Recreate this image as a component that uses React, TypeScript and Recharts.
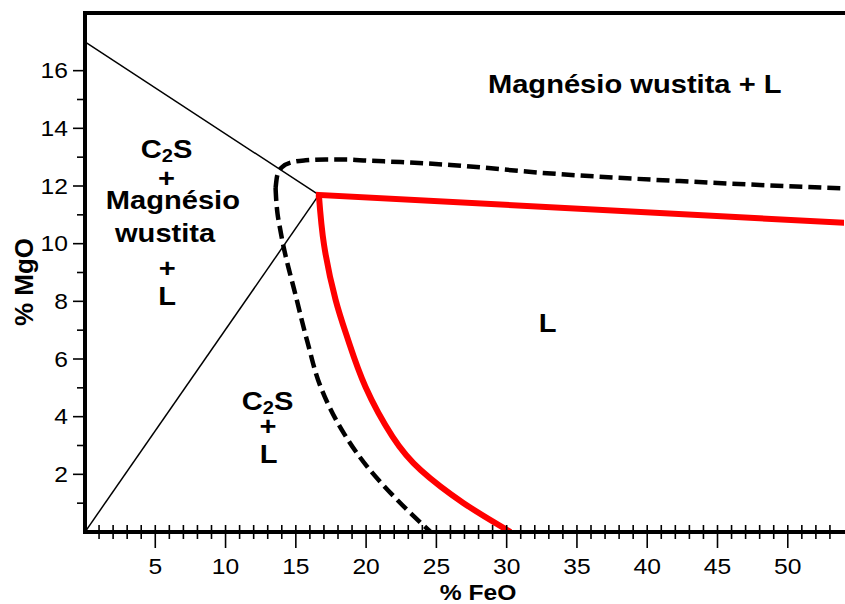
import React from 'react';
import { LineChart, Line, XAxis, YAxis, ReferenceDot } from 'recharts';

const FONT = '"Liberation Sans", Arial, Helvetica, sans-serif';
// the whole figure is set a little wide
const STRETCH = 1.12;

// axis ticks (every unit gets a short tick, labelled ones a long one)
const feoTicks = [
  1, 2, 3, 4, 5, 6, 7, 8, 9, 10, 11, 12, 13, 14, 15, 16, 17, 18, 19, 20, 21, 22, 23, 24, 25, 26, 27,
  28, 29, 30, 31, 32, 33, 34, 35, 36, 37, 38, 39, 40, 41, 42, 43, 44, 45, 46, 47, 48, 49, 50, 51, 52,
  53,
];
const feoLabelled = [5, 10, 15, 20, 25, 30, 35, 40, 45, 50];
const mgoTicks = [1, 2, 3, 4, 5, 6, 7, 8, 9, 10, 11, 12, 13, 14, 15, 16];
const mgoLabelled = [2, 4, 6, 8, 10, 12, 14, 16];

// thin boundary lines meeting at the invariant point
const upperTieFeO = [0, 16.64];
const upperTieMgO = [17, 11.69];
const lowerTieFeO = [0, 16.64];
const lowerTieMgO = [0, 11.69];

// dashed saturation curve, split at its leftmost point
const dashedTopFeO = [13.56, 13.67, 13.99, 14.7, 15.69, 17.12, 18.54, 20.09, 22.46, 26.01, 32.42, 43.09, 54.13];
const dashedTopMgO = [11.93, 12.35, 12.64, 12.82, 12.89, 12.92, 12.92, 12.88, 12.83, 12.73, 12.46, 12.15, 11.91];
const dashedLowFeO = [13.56, 13.61, 13.7, 13.91, 14.15, 14.48, 14.86, 15.82, 16.76, 18.42, 20.09, 22.22, 24.59];
const dashedLowMgO = [11.93, 11.48, 11.03, 10.44, 9.84, 9.16, 8.45, 6.6, 5.04, 3.42, 2.26, 1.11, 0];

// red liquidus
const redTopFeO = [16.64, 54.13];
const redTopMgO = [11.69, 10.72];
const redCurveFeO = [16.64, 17.01, 17.83, 18.72, 19.96, 21.89, 23.88, 26.94, 30.28];
const redCurveMgO = [11.69, 9.95, 8.05, 6.66, 5.03, 3.3, 2.15, 1.0, 0];

// field labels: [FeO, MgO (baseline), text]
const fieldLabels: [number, number, string][] = [
  [5.8, 12.97, 'C2S'],
  [5.8, 11.98, '+'],
  [6.25, 11.19, 'Magnésio'],
  [5.7, 10.07, 'wustita'],
  [5.85, 8.86, '+'],
  [5.85, 7.87, 'L'],
  [12.99, 4.23, 'C2S'],
  [13.02, 3.36, '+'],
  [13.06, 2.4, 'L'],
  [32.92, 6.95, 'L'],
  [39.11, 15.22, 'Magnésio wustita + L'],
];

const zip = (feo: number[], mgo: number[]) => feo.map((v, i) => ({ feo: v, mgo: mgo[i] }));

function FieldLabel({ cx, cy, text }: { cx: number; cy: number; text: string }) {
  const style = { fontFamily: FONT, fontWeight: 700, fontSize: 26, fill: '#000' };
  return (
    <text transform={`translate(${cx},${cy}) scale(${STRETCH},1)`} textAnchor="middle" style={style}>
      {text === 'C2S' ? (
        <>
          C
          <tspan fontSize={18} dy={4}>
            2
          </tspan>
          <tspan dy={-4}>S</tspan>
        </>
      ) : (
        text
      )}
    </text>
  );
}

const tickFont = { fontFamily: FONT, fontSize: 22, fill: '#000' };

function FeoTick({ x, y, payload }: any) {
  const major = feoLabelled.includes(payload.value);
  return (
    <g>
      <line x1={x} x2={x} y1={y - 7} y2={y + (major ? 16 : 7)} stroke="#000" strokeWidth={1.6} />
      {major && (
        <text transform={`translate(${x},${y + 42}) scale(${STRETCH},1)`} textAnchor="middle" style={tickFont}>
          {payload.value}
        </text>
      )}
    </g>
  );
}

function MgoTick({ x, y, payload }: any) {
  const major = mgoLabelled.includes(payload.value);
  return (
    <g>
      <line x1={x - (major ? 12 : 8)} x2={x} y1={y} y2={y} stroke="#000" strokeWidth={1.6} />
      {major && (
        <text
          transform={`translate(${x - 17},${y}) scale(${STRETCH},1)`}
          textAnchor="end"
          dy="0.355em"
          style={tickFont}
        >
          {payload.value}
        </text>
      )}
    </g>
  );
}

function RightTick({ x, y }: any) {
  return <line x1={x - 4} x2={x} y1={y} y2={y} stroke="#000" strokeWidth={1.6} />;
}

const axisStroke = { stroke: '#000', strokeWidth: 4, strokeLinecap: 'square' as const };
const titleStyle = { fontFamily: FONT, fontWeight: 700, fontSize: 22, fill: '#000' };

export default function App() {
  return (
    <div style={{ position: 'absolute', left: 0, top: 0 }}>
      <LineChart width={845} height={604} margin={{ top: 0, right: 0, bottom: 0, left: 0 }}>
        <XAxis
          xAxisId="feo"
          type="number"
          dataKey="feo"
          domain={[0, 54]}
          allowDataOverflow
          ticks={feoTicks}
          interval={0}
          height={72}
          tickSize={0}
          tickMargin={0}
          tickLine={false}
          tick={<FeoTick />}
          axisLine={axisStroke}
          label={{
            content: ({ viewBox }: any) => (
              <text
                transform={`translate(${viewBox.x + 393},${viewBox.y + 68}) scale(${STRETCH},1)`}
                textAnchor="middle"
                style={titleStyle}
              >
                % FeO
              </text>
            ),
          }}
        />
        <XAxis
          xAxisId="top"
          orientation="top"
          type="number"
          domain={[0, 54]}
          height={13}
          ticks={[]}
          tick={false}
          tickLine={false}
          axisLine={axisStroke}
        />
        <YAxis
          yAxisId="mgo"
          type="number"
          dataKey="mgo"
          domain={[0, 18]}
          allowDataOverflow
          ticks={mgoTicks}
          interval={0}
          width={85}
          tickSize={0}
          tickMargin={0}
          tickLine={false}
          tick={<MgoTick />}
          axisLine={axisStroke}
          label={{
            content: ({ viewBox }: any) => (
              <text
                transform={`translate(${viewBox.x + 33},${viewBox.y + 269}) rotate(-90)`}
                textAnchor="middle"
                style={{ ...titleStyle, fontSize: 26 }}
              >
                % MgO
              </text>
            ),
          }}
        />
        <YAxis
          yAxisId="right"
          orientation="right"
          type="number"
          domain={[0, 18]}
          ticks={mgoLabelled}
          interval={0}
          width={1}
          tickSize={0}
          tickMargin={0}
          tickLine={false}
          tick={<RightTick />}
          axisLine={false}
        />

        <Line
          xAxisId="feo"
          yAxisId="mgo"
          data={zip(upperTieFeO, upperTieMgO)}
          dataKey="mgo"
          type="linear"
          stroke="#000"
          strokeWidth={1.5}
          dot={false}
          isAnimationActive={false}
        />
        <Line
          xAxisId="feo"
          yAxisId="mgo"
          data={zip(lowerTieFeO, lowerTieMgO)}
          dataKey="mgo"
          type="linear"
          stroke="#000"
          strokeWidth={1.5}
          dot={false}
          isAnimationActive={false}
        />
        <Line
          xAxisId="feo"
          yAxisId="mgo"
          data={zip(dashedTopFeO, dashedTopMgO)}
          dataKey="mgo"
          type="monotoneX"
          stroke="#000"
          strokeWidth={4.5}
          strokeDasharray="13 6"
          dot={false}
          isAnimationActive={false}
        />
        <Line
          xAxisId="feo"
          yAxisId="mgo"
          data={zip(dashedLowFeO, dashedLowMgO)}
          dataKey="mgo"
          type="monotoneY"
          stroke="#000"
          strokeWidth={4.5}
          strokeDasharray="13 6"
          dot={false}
          isAnimationActive={false}
        />
        <Line
          xAxisId="feo"
          yAxisId="mgo"
          data={zip(redTopFeO, redTopMgO)}
          dataKey="mgo"
          type="linear"
          stroke="#ff0000"
          strokeWidth={6}
          strokeLinecap="square"
          dot={false}
          isAnimationActive={false}
        />
        <Line
          xAxisId="feo"
          yAxisId="mgo"
          data={zip(redCurveFeO, redCurveMgO)}
          dataKey="mgo"
          type="natural"
          stroke="#ff0000"
          strokeWidth={6}
          dot={false}
          isAnimationActive={false}
        />

        {fieldLabels.map(([feo, mgo, text], i) => (
          <ReferenceDot
            key={i}
            xAxisId="feo"
            yAxisId="mgo"
            x={feo}
            y={mgo}
            r={0}
            shape={(p: any) => <FieldLabel cx={p.cx} cy={p.cy} text={text} />}
          />
        ))}
      </LineChart>
    </div>
  );
}
